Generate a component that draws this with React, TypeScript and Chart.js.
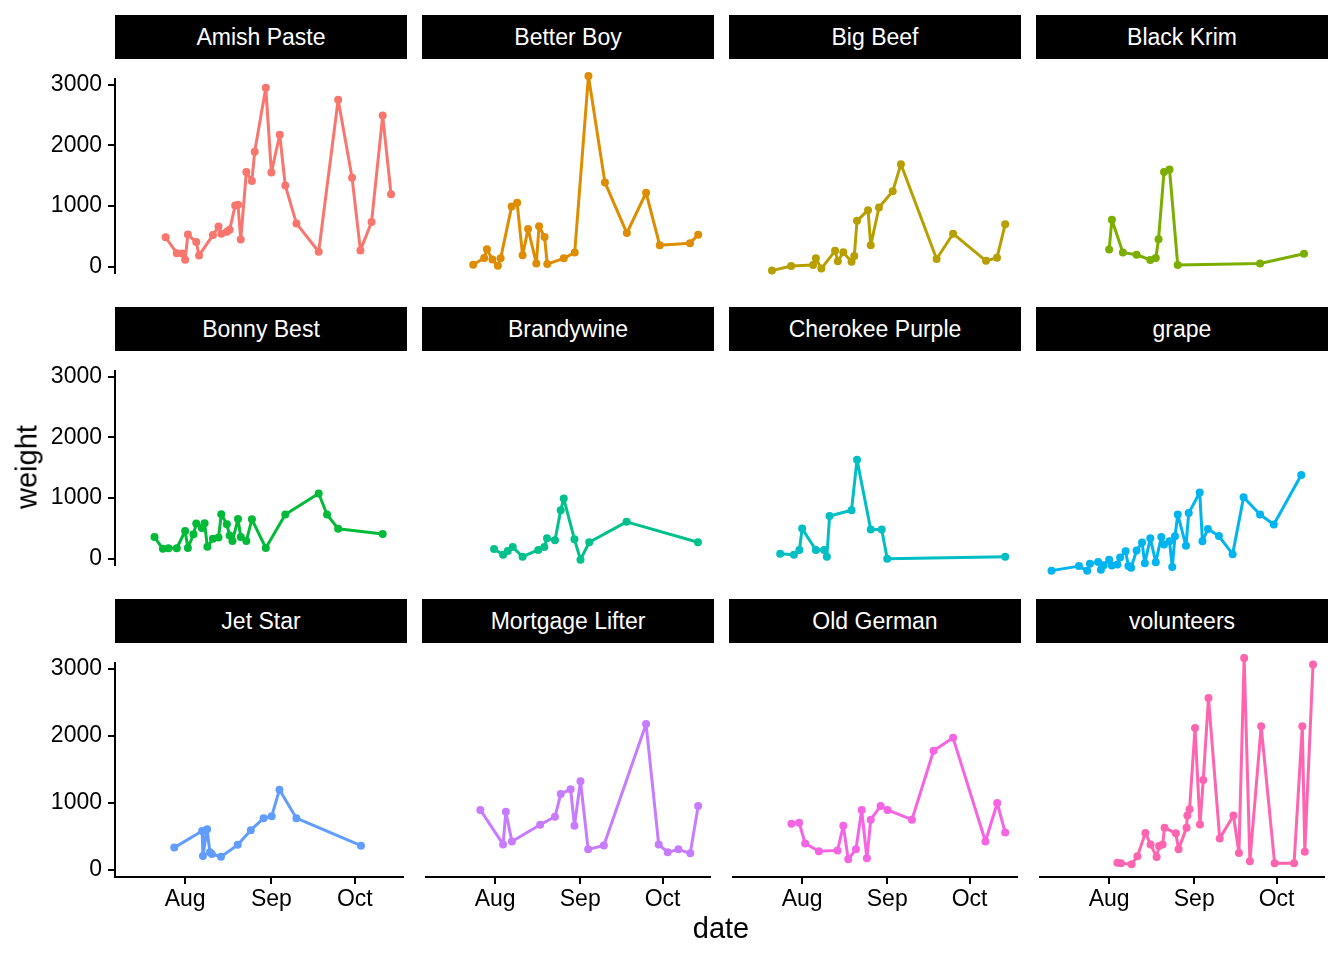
import React, { useEffect, useRef } from "react";
import { Chart, registerables } from "chart.js";
Chart.register(...registerables);

// x values: days after 1 July (Aug 1 = 31, Sep 1 = 62, Oct 1 = 92)
const monthTicks = [31, 62, 92];
const monthLabels = ["Aug", "Sep", "Oct"];
const yTicks = [0, 1000, 2000, 3000];

const varieties = ["Amish Paste", "Better Boy", "Big Beef", "Black Krim", "Bonny Best", "Brandywine", "Cherokee Purple", "grape", "Jet Star", "Mortgage Lifter", "Old German", "volunteers"];
const colors = ["#F8766D", "#DE8C00", "#B79F00", "#7CAE00", "#00BA38", "#00C08B", "#00BFC4", "#00B4F0", "#619CFF", "#C77CFF", "#F564E3", "#FF64B0"];

const amishDays = [24, 28, 30, 31, 32, 35, 36, 41, 43, 44, 46, 47, 49, 50, 51, 53, 55, 56, 60, 62, 65, 67, 71, 79, 86, 91, 94, 98, 102, 105];
const amishWeights = [481, 220, 215, 110, 527, 403, 183, 518, 660, 540, 573, 605, 1008, 1017, 444, 1558, 1412, 1893, 2947, 1550, 2172, 1334, 711, 243, 2750, 1462, 266, 733, 2489, 1192];
const betterDays = [23, 27, 28, 30, 32, 33, 37, 39, 41, 43, 46, 47, 49, 50, 56, 60, 65, 71, 79, 86, 91, 102, 105];
const betterWeights = [234, 330, 454, 307, 220, 325, 1059, 1113, 367, 742, 252, 780, 628, 243, 325, 408, 2910, 1402, 683, 1255, 509, 540, 660];
const beefDays = [20, 27, 35, 36, 38, 43, 44, 46, 49, 50, 51, 55, 56, 59, 64, 67, 80, 86, 98, 102, 105];
const beefWeights = [151, 215, 229, 325, 179, 431, 284, 412, 275, 357, 857, 1008, 509, 1045, 1275, 1660, 316, 674, 289, 334, 807];
const krimDays = [31, 32, 36, 41, 46, 48, 49, 51, 53, 56, 86, 102];
const krimWeights = [449, 871, 408, 376, 303, 330, 596, 1550, 1586, 229, 252, 389];
const bonnyDays = [20, 23, 25, 28, 31, 32, 34, 35, 37, 38, 39, 41, 43, 44, 46, 47, 48, 50, 51, 53, 55, 60, 67, 79, 82, 86, 102];
const bonnyWeights = [353, 161, 169, 169, 454, 174, 399, 578, 504, 582, 193, 326, 348, 729, 564, 381, 289, 650, 353, 289, 646, 174, 725, 1073, 725, 491, 403];
const brandyDays = [30.6, 33.9, 35.6, 37.4, 41, 46.7, 48.9, 49.9, 52.8, 54.9, 56, 59.9, 62.1, 65.3, 78.9, 104.9];
const brandyWeights = [344, 261, 316, 371, 234, 330, 371, 495, 468, 894, 1059, 481, 193, 440, 729, 440];
const cherokeeDays = [23, 28, 30, 31, 36, 39, 40, 41, 49, 51, 56, 60, 62, 105];
const cherokeeWeights = [275, 261, 330, 633, 330, 330, 234, 811, 894, 1609, 619, 619, 206, 234];
const grapeDays = [10, 20, 23, 24, 27, 28, 29, 31, 32, 34, 35, 37, 38, 39, 41, 43, 44, 46, 48, 50, 51, 53, 54, 55, 56, 59, 60, 64, 65, 67, 71, 76, 80, 86, 91, 101];
const grapeWeights = [37, 101, 37, 133, 161, 50, 115, 193, 110, 124, 225, 312, 101, 78, 321, 435, 142, 495, 156, 513, 408, 454, 87, 523, 834, 389, 853, 1146, 454, 628, 527, 271, 1077, 834, 692, 1393];
const jetDays = [27.1, 37.1, 37.4, 38.9, 39.9, 40.6, 43.9, 49.9, 54.6, 59.2, 62.1, 64.9, 71, 94.2];
const jetWeights = [330, 578, 206, 605, 261, 234, 193, 371, 591, 770, 798, 1196, 770, 358];
const mortgageDays = [25.6, 33.9, 34.9, 37.1, 47.4, 52.8, 54.9, 58.5, 59.9, 62.1, 64.9, 70.6, 86, 90.6, 93.9, 97.8, 102.1, 105];
const mortgageWeights = [825, 344, 798, 385, 619, 729, 1045, 1114, 605, 1224, 275, 330, 2021, 344, 234, 275, 220, 880];
const germanDays = [27.1, 29.9, 32.1, 37.1, 43.9, 46, 47.8, 50.6, 52.7, 54.6, 56, 59.6, 62.1, 71, 78.9, 86, 97.8, 102.1, 105];
const germanWeights = [633, 646, 358, 248, 261, 605, 138, 275, 825, 151, 688, 880, 825, 688, 1650, 1829, 385, 921, 509];
const volunteerDays = [34, 35.3, 39.2, 41.3, 44.2, 46.1, 48.3, 49.2, 50.5, 51.2, 55.3, 56.3, 59.2, 59.5, 60.3, 62.3, 64.1, 65.3, 67.2, 71.3, 76.3, 78.3, 80.2, 82.3, 86.4, 91.3, 98.4, 101.4, 102.3, 105.3];
const volunteerWeights = [87, 83, 69, 179, 504, 344, 169, 321, 344, 578, 499, 275, 578, 747, 834, 1966, 623, 1242, 2383, 426, 747, 224, 2943, 110, 1990, 83, 83, 1990, 243, 2850];

const allDays = [amishDays, betterDays, beefDays, krimDays, bonnyDays, brandyDays, cherokeeDays, grapeDays, jetDays, mortgageDays, germanDays, volunteerDays];
const allWeights = [amishWeights, betterWeights, beefWeights, krimWeights, bonnyWeights, brandyWeights, cherokeeWeights, grapeWeights, jetWeights, mortgageWeights, germanWeights, volunteerWeights];

const FONT = "'Liberation Sans', Arial, sans-serif";
const colLeft = [115, 422, 729, 1036];
const rowTop = [59, 351, 643];
const PW = 292;
const PH = 234;
const YAXW = 80;
const XAXH = 45;

function Panel({ i }: { i: number }) {
  const ref = useRef<HTMLCanvasElement>(null);
  const row = Math.floor(i / 4);
  const col = i % 4;
  const showY = col === 0;
  const showX = row === 2;
  const left = colLeft[col] - (showY ? YAXW : 0);
  const top = rowTop[row];
  const w = PW + (showY ? YAXW : 0);
  const h = PH + (showX ? XAXH : 0);

  useEffect(() => {
    const data = allDays[i].map((d, k) => ({ x: d, y: allWeights[i][k] }));
    const chart = new Chart(ref.current!, {
      type: "line",
      data: {
        datasets: [{
          data,
          borderColor: colors[i],
          backgroundColor: colors[i],
          borderWidth: 3,
          borderJoinStyle: "round",
          borderCapStyle: "round",
          pointRadius: 4,
          pointBorderWidth: 0,
          tension: 0,
          clip: false as any,
        }],
      },
      options: {
        animation: false,
        responsive: false,
        devicePixelRatio: 1,
        layout: { padding: 0 },
        plugins: { legend: { display: false }, tooltip: { enabled: false } },
        scales: {
          x: {
            type: "linear",
            min: 5.8,
            max: 109.3,
            display: showX,
            afterBuildTicks: (s: any) => { s.ticks = monthTicks.map((v) => ({ value: v })); },
            afterFit: (s: any) => { if (showX) s.height = XAXH; },
            ticks: {
              callback: (v: any) => monthLabels[monthTicks.indexOf(Number(v))] ?? "",
              color: "#000",
              font: { family: FONT, size: 23 },
              padding: 2,
              maxRotation: 0,
              autoSkip: false,
            },
            grid: { drawOnChartArea: false, tickLength: 7, color: "#000", lineWidth: 2 },
            border: { display: true, color: "#000", width: 2 },
          },
          y: {
            min: -110,
            max: 3095,
            display: showY,
            afterBuildTicks: (s: any) => { s.ticks = yTicks.map((v) => ({ value: v })); },
            afterFit: (s: any) => { if (showY) s.width = YAXW; },
            ticks: {
              color: "#000",
              font: { family: FONT, size: 23 },
              padding: 6,
              callback: (v: any) => String(v),
            },
            grid: { drawOnChartArea: false, tickLength: 7, color: "#000", lineWidth: 2 },
            border: { display: true, color: "#000", width: 2 },
          },
        },
      },
    });
    return () => chart.destroy();
  }, [i]);

  return (
    <>
      <div style={{
        position: "absolute", left: colLeft[col], top: top - 44, width: PW, height: 44,
        background: "#000", color: "#fff", fontFamily: FONT, fontSize: 23,
        display: "flex", alignItems: "center", justifyContent: "center",
      }}>{varieties[i]}</div>
      <canvas ref={ref} width={w} height={h} style={{ position: "absolute", left, top, width: w, height: h }} />
    </>
  );
}

export default function App() {
  return (
    <div style={{ position: "fixed", left: 0, top: 0, width: 1344, height: 960, background: "#fff", overflow: "hidden" }}>
      {varieties.map((_, i) => <Panel key={i} i={i} />)}
      <div style={{ position: "absolute", left: 721, top: 912, transform: "translateX(-50%)", fontFamily: FONT, fontSize: 29, color: "#000" }}>date</div>
      <div style={{ position: "absolute", left: 27, top: 467, transform: "translate(-50%, -50%) rotate(-90deg)", fontFamily: FONT, fontSize: 29, color: "#000", whiteSpace: "nowrap" }}>weight</div>
    </div>
  );
}
